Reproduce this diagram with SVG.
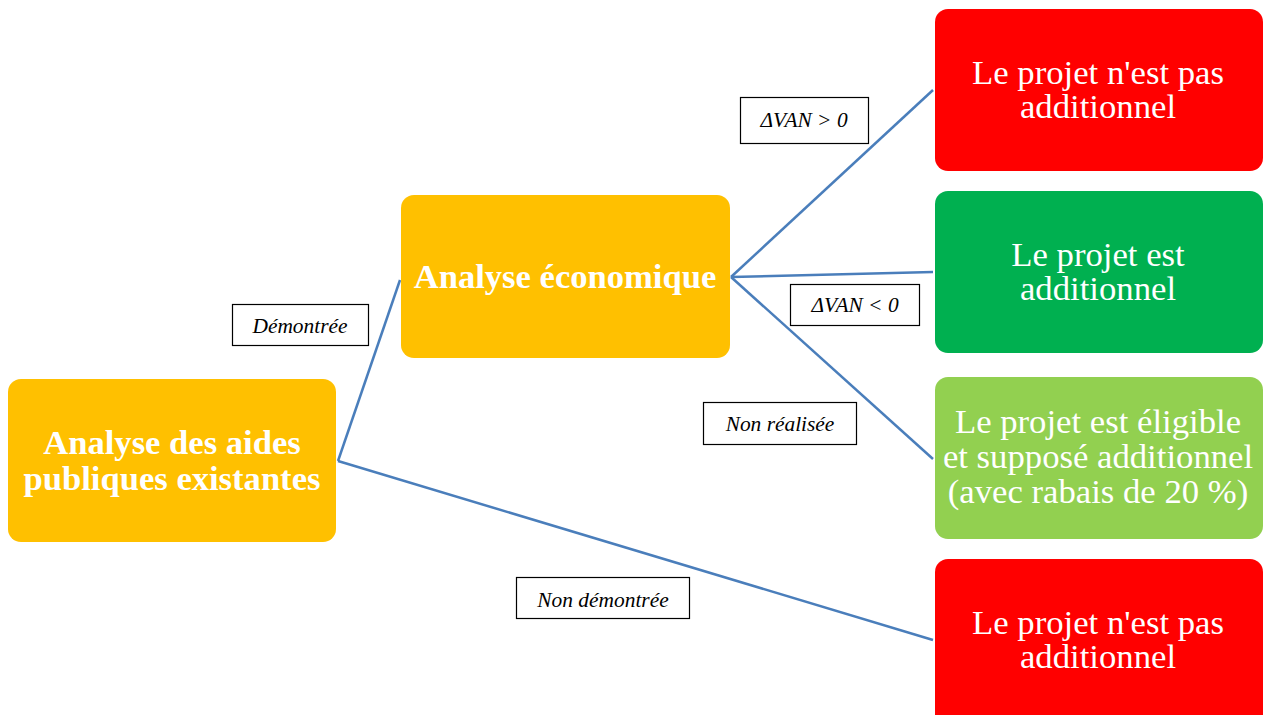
<svg xmlns="http://www.w3.org/2000/svg" width="1264" height="715" viewBox="0 0 1264 715">
<style>
.node{stroke:none}
.bt{font-family:"Liberation Serif","Times New Roman",serif;font-weight:bold;font-size:34.6px;fill:#fff;text-anchor:middle}
.rt{font-family:"Liberation Serif","Times New Roman",serif;font-size:34.7px;fill:#fff;text-anchor:middle}
.lb{fill:#fff;stroke:#000;stroke-width:1.2}
.lt{font-family:"Liberation Serif","Times New Roman",serif;font-style:italic;font-size:21.4px;fill:#000;text-anchor:middle}
.cn{stroke:#4A7EBB;stroke-width:2.5;fill:none}
</style>
<rect width="1264" height="715" fill="#fff"/>
<g id="connectors">
<line class="cn" x1="338" y1="461" x2="400" y2="280"/>
<line class="cn" x1="338" y1="461" x2="933" y2="640"/>
<line class="cn" x1="731" y1="277" x2="933" y2="90"/>
<line class="cn" x1="731" y1="277" x2="933" y2="272"/>
<line class="cn" x1="731" y1="277" x2="933" y2="459"/>
</g>
<g id="nodeA">
<rect class="node" x="8" y="379" width="328" height="163" rx="13" fill="#FFC000"/>
<text class="bt" x="172" y="454">Analyse des aides</text>
<text class="bt" x="172" y="490">publiques existantes</text>
</g>
<g id="nodeB">
<rect class="node" x="401" y="195" width="329" height="163" rx="13" fill="#FFC000"/>
<text class="bt" x="565" y="288">Analyse économique</text>
</g>
<g id="nodeR1">
<rect class="node" x="935" y="9" width="328" height="162" rx="13" fill="#FF0000"/>
<text class="rt" x="1098" y="84">Le projet n'est pas</text>
<text class="rt" x="1098" y="118">additionnel</text>
</g>
<g id="nodeR2">
<rect class="node" x="935" y="191" width="328" height="162" rx="13" fill="#00B050"/>
<text class="rt" x="1098" y="266">Le projet est</text>
<text class="rt" x="1098" y="300">additionnel</text>
</g>
<g id="nodeR3">
<rect class="node" x="935" y="377" width="328" height="162" rx="13" fill="#92D050"/>
<text class="rt" x="1098" y="433">Le projet est éligible</text>
<text class="rt" x="1098" y="468">et supposé additionnel</text>
<text class="rt" x="1098" y="503">(avec rabais de 20 %)</text>
</g>
<g id="nodeR4">
<rect class="node" x="935" y="559" width="328" height="170" rx="13" fill="#FF0000"/>
<text class="rt" x="1098" y="634">Le projet n'est pas</text>
<text class="rt" x="1098" y="668">additionnel</text>
</g>
<g id="label1">
<rect class="lb" x="740.5" y="97.5" width="128" height="46"/>
<text class="lt" x="804" y="127">ΔVAN &gt; 0</text>
</g>
<g id="label2">
<rect class="lb" x="790.5" y="284.5" width="129" height="41"/>
<text class="lt" x="855" y="312">ΔVAN &lt; 0</text>
</g>
<g id="label3">
<rect class="lb" x="232.5" y="304.5" width="136" height="41"/>
<text class="lt" x="300" y="333">Démontrée</text>
</g>
<g id="label4">
<rect class="lb" x="703.5" y="402.5" width="153" height="42"/>
<text class="lt" x="780" y="431">Non réalisée</text>
</g>
<g id="label5">
<rect class="lb" x="516.5" y="577.5" width="173" height="41"/>
<text class="lt" x="603" y="607">Non démontrée</text>
</g>
</svg>
